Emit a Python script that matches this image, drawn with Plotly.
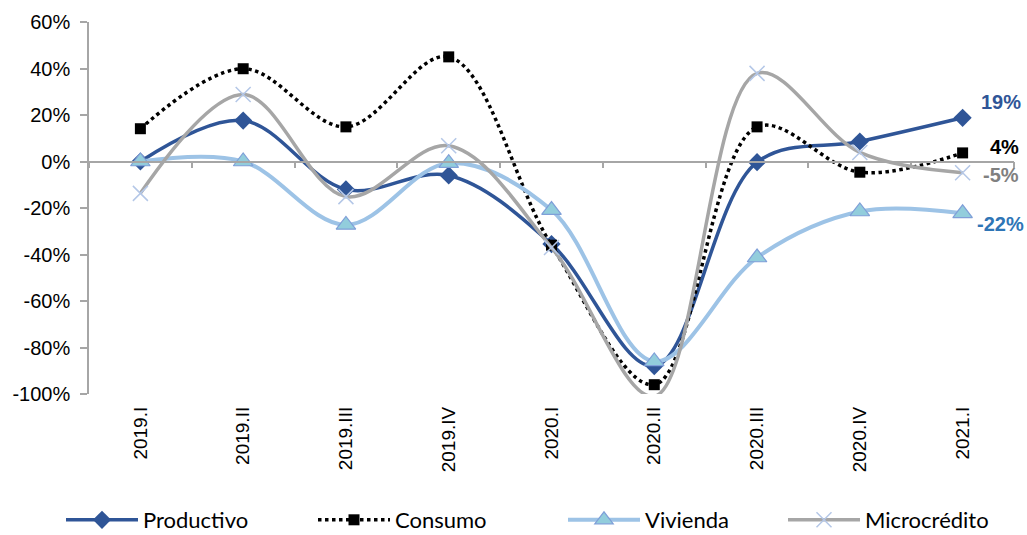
import plotly.graph_objects as go

categories = ["2019.I", "2019.II", "2019.III", "2019.IV", "2020.I", "2020.II", "2020.III", "2020.IV", "2021.I"]
productivo = [0.0, 17.6, -12.0, -6.0, -35.5, -88.0, -0.3, 8.6, 18.8]
consumo = [14.1, 39.9, 14.9, 45.0, -36.0, -96.0, 14.9, -4.6, 3.7]
vivienda = [0.0, 0.0, -27.3, -0.7, -20.9, -86.0, -41.3, -21.5, -22.3]
microcredito = [-13.7, 28.8, -15.1, 6.8, -37.0, -101.0, 37.9, 3.9, -4.8]

series_names = ["Productivo", "Consumo", "Vivienda", "Microcrédito"]
y_ticks = [-100, -80, -60, -40, -20, 0, 20, 40, 60]

TICK_FONT = dict(family="Liberation Sans, Arial, sans-serif", size=20, color="#000000")
XTICK_FONT = dict(family="Liberation Sans, Arial, sans-serif", size=19, color="#000000")
LEG_FONT = dict(family="Lato, Calibri, sans-serif", size=22, color="#000000")
AXIS_GRAY = "#A6A6A6"

fig = go.Figure()

fig.add_trace(go.Scatter(
    x=categories, y=productivo, name=series_names[0], mode="lines+markers",
    line=dict(color="#2F5597", width=3.5, shape="spline", smoothing=1),
    marker=dict(symbol="diamond", size=14, color="#2F5597"),
    cliponaxis=False, legend="legend"))
fig.add_trace(go.Scatter(
    x=categories, y=consumo, name=series_names[1], mode="lines+markers",
    line=dict(color="#000000", width=3.5, dash="dot", shape="spline", smoothing=1),
    marker=dict(symbol="square", size=11, color="#000000"),
    cliponaxis=False, legend="legend2"))
fig.add_trace(go.Scatter(
    x=categories, y=vivienda, name=series_names[2], mode="lines+markers",
    line=dict(color="#9DC3E6", width=4, shape="spline", smoothing=1),
    marker=dict(symbol="triangle-up", size=17, color="#92CDDC",
                line=dict(color="#7F9FD8", width=1.2)),
    cliponaxis=False, legend="legend3"))
fig.add_trace(go.Scatter(
    x=categories, y=microcredito, name=series_names[3], mode="lines+markers",
    line=dict(color="#A6A6A6", width=3.5, shape="spline", smoothing=1),
    marker=dict(symbol="x-thin", size=15, color="#B4C7E7",
                line=dict(color="#B4C7E7", width=1.5)),
    cliponaxis=False, legend="legend4"))

# helper trace so that the category axis through 0% is drawn
fig.add_trace(go.Scatter(x=categories, y=[0] * len(categories), xaxis="x2",
                         mode="markers", marker=dict(opacity=0), showlegend=False,
                         hoverinfo="skip"))

# end labels
end_colors = ["#2F5597", "#000000", "#808080", "#2E75B6"]
end_series = [productivo, consumo, microcredito, vivienda]
end_yshift = [16, 6, -2, -11]
end_xshift = [60, 58, 58, 63]
for vals, col, ys, xs in zip(end_series, end_colors, end_yshift, end_xshift):
    v = vals[-1]
    fig.add_annotation(x=categories[-1], y=v, text=f"<b>{round(v):.0f}%</b>",
                       showarrow=False, xanchor="right", xshift=xs, yshift=ys,
                       font=dict(family="Liberation Sans Narrow, Arial Narrow, Liberation Sans, sans-serif",
                                 size=20, color=col))

W, H = 1027, 535
L, R, T, B = 89, 13, 22, 141
plot_w = W - L - R

def px_to_paper_x(px):
    return (px - L) / plot_w

leg_common = dict(orientation="h", yref="container", yanchor="middle", y=1 - 520 / H,
                  xanchor="left", font=LEG_FONT, itemwidth=72,
                  bgcolor="rgba(0,0,0,0)", borderwidth=0)
leg_starts = [61, 313, 563, 783]

fig.update_layout(
    width=W, height=H,
    margin=dict(l=L, r=R, t=T, b=B, pad=0),
    paper_bgcolor="white", plot_bgcolor="white",
    showlegend=True,
    legend=dict(x=px_to_paper_x(leg_starts[0]), **leg_common),
    legend2=dict(x=px_to_paper_x(leg_starts[1]), **leg_common),
    legend3=dict(x=px_to_paper_x(leg_starts[2]), **leg_common),
    legend4=dict(x=px_to_paper_x(leg_starts[3]), **leg_common),
    xaxis=dict(type="category", categoryorder="array", categoryarray=categories,
               range=[-0.5, len(categories) - 0.5], showline=False, showgrid=False,
               zeroline=False, ticks="", tickangle=-90, tickfont=XTICK_FONT,
               ticklabelstandoff=8),
    xaxis2=dict(type="category", categoryorder="array", categoryarray=categories,
                matches="x", overlaying="x", anchor="free",
                position=100 / 160, side="bottom",
                showline=True, linecolor=AXIS_GRAY, linewidth=1.5,
                ticks="outside", tickson="boundaries", ticklen=6,
                tickcolor=AXIS_GRAY, tickwidth=1.5, showticklabels=False,
                showgrid=False, zeroline=False),
    yaxis=dict(range=[-100, 60], tickvals=y_ticks,
               ticktext=[f"{v}%" for v in y_ticks],
               showline=True, linecolor=AXIS_GRAY, linewidth=1.5,
               ticks="outside", ticklen=7, tickcolor=AXIS_GRAY, tickwidth=1.5,
               showgrid=False, zeroline=False, tickfont=TICK_FONT,
               ticklabelstandoff=6),
)

fig.write_html("out.html", config={"displayModeBar": False},
               post_script="document.body.style.margin='0';")
